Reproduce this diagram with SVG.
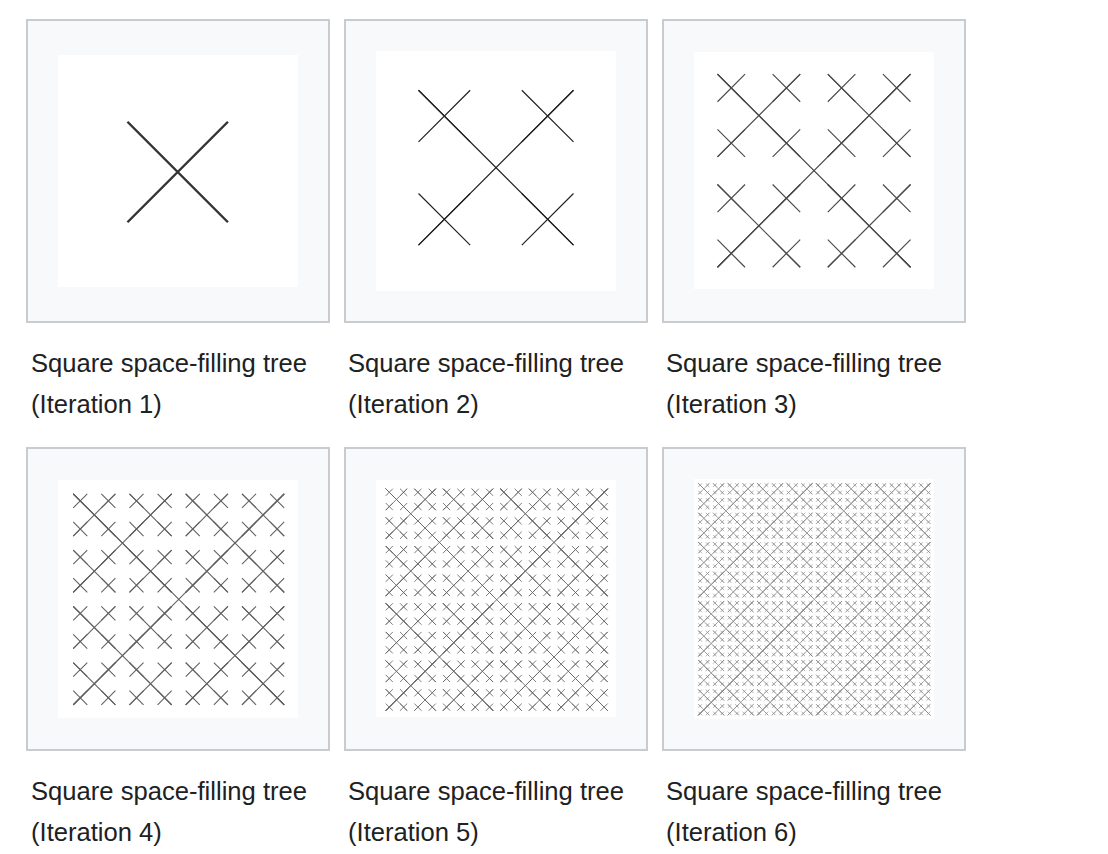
<svg xmlns="http://www.w3.org/2000/svg" xmlns:xlink="http://www.w3.org/1999/xlink" width="1108" height="854" viewBox="0 0 1108 854">
<style>
.frame{fill:#f8f9fa;stroke:#c8ccd1;stroke-width:2}
.inner{fill:#ffffff}
.cap{font-family:"Liberation Sans",Arial,sans-serif;font-size:25.6px;fill:#202122}
.tree{fill:none;stroke-linecap:butt}
</style>
<defs>
<g id="T1"><path d="M-1-1L1 1M1-1L-1 1"/></g>
<g id="T2"><path d="M-3-3L3 3M3-3L-3 3"/><use href="#T1" x="-2" y="-2"/><use href="#T1" x="2" y="-2"/><use href="#T1" x="-2" y="2"/><use href="#T1" x="2" y="2"/></g>
<g id="T3"><path d="M-7-7L7 7M7-7L-7 7"/><use href="#T2" x="-4" y="-4"/><use href="#T2" x="4" y="-4"/><use href="#T2" x="-4" y="4"/><use href="#T2" x="4" y="4"/></g>
<g id="T4"><path d="M-15-15L15 15M15-15L-15 15"/><use href="#T3" x="-8" y="-8"/><use href="#T3" x="8" y="-8"/><use href="#T3" x="-8" y="8"/><use href="#T3" x="8" y="8"/></g>
<g id="T5"><path d="M-31-31L31 31M31-31L-31 31"/><use href="#T4" x="-16" y="-16"/><use href="#T4" x="16" y="-16"/><use href="#T4" x="-16" y="16"/><use href="#T4" x="16" y="16"/></g>
<g id="T6"><path d="M-63-63L63 63M63-63L-63 63"/><use href="#T5" x="-32" y="-32"/><use href="#T5" x="32" y="-32"/><use href="#T5" x="-32" y="32"/><use href="#T5" x="32" y="32"/></g>
</defs>

<g id="panel1">
<rect class="frame" x="27" y="20" width="302" height="302"/>
<rect class="inner" x="58" y="55" width="240" height="232"/>
<use class="tree" href="#T1" transform="translate(177.7 172) scale(50.25)" stroke="#333" stroke-width="0.048"/>
<text class="cap" x="31" y="372">Square space-filling tree</text>
<text class="cap" x="31" y="413">(Iteration 1)</text>
</g>

<g id="panel2">
<rect class="frame" x="345" y="20" width="302" height="302"/>
<rect class="inner" x="376" y="51" width="240" height="240"/>
<use class="tree" href="#T2" transform="translate(496 167.7) scale(25.83)" stroke="#222" stroke-width="0.046"/>
<text class="cap" x="348" y="372">Square space-filling tree</text>
<text class="cap" x="348" y="413">(Iteration 2)</text>
</g>

<g id="panel3">
<rect class="frame" x="663" y="20" width="302" height="302"/>
<rect class="inner" x="694" y="52" width="240" height="237"/>
<use class="tree" href="#T3" transform="translate(814 170.7) scale(13.79)" stroke="#4a4a4a" stroke-width="0.085"/>
<text class="cap" x="666" y="372">Square space-filling tree</text>
<text class="cap" x="666" y="413">(Iteration 3)</text>
</g>

<g id="panel4">
<rect class="frame" x="27" y="448" width="302" height="302"/>
<rect class="inner" x="58" y="480" width="240" height="238"/>
<use class="tree" href="#T4" transform="translate(178.7 599.3) scale(7.033)" stroke="#606060" stroke-width="0.15"/>
<text class="cap" x="31" y="800">Square space-filling tree</text>
<text class="cap" x="31" y="841">(Iteration 4)</text>
</g>

<g id="panel5">
<rect class="frame" x="345" y="448" width="302" height="302"/>
<rect class="inner" x="376" y="480" width="240" height="237"/>
<use class="tree" href="#T5" transform="translate(496.7 599.7) scale(3.581)" stroke="#666" stroke-width="0.24"/>
<text class="cap" x="348" y="800">Square space-filling tree</text>
<text class="cap" x="348" y="841">(Iteration 5)</text>
</g>

<g id="panel6">
<rect class="frame" x="663" y="448" width="302" height="302"/>
<rect class="inner" x="694" y="479" width="240" height="240"/>
<use class="tree" href="#T6" transform="translate(814.3 599.3) scale(1.841)" stroke="#888" stroke-width="0.36"/>
<text class="cap" x="666" y="800">Square space-filling tree</text>
<text class="cap" x="666" y="841">(Iteration 6)</text>
</g>
</svg>
